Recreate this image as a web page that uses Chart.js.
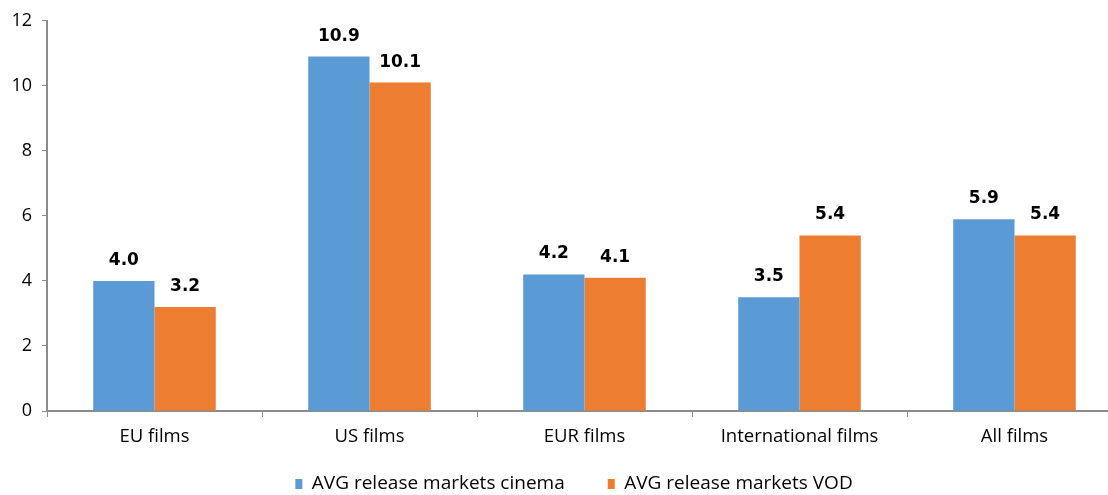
<!DOCTYPE html>
<html>
<head>
<meta charset="utf-8">
<script src="https://cdn.jsdelivr.net/npm/chart.js@4.4.0/dist/chart.umd.min.js"></script>
<style>
html,body{margin:0;padding:0;background:#fff;overflow:hidden;width:1108px;height:495px;}
canvas{display:block;}
</style>
</head>
<body>
<canvas id="c" width="1122" height="495"></canvas>
<script>
const categories = ["EU films", "US films", "EUR films", "International films", "All films"];
const cinemaValues = [4.0, 10.9, 4.2, 3.5, 5.9];
const vodValues = [3.2, 10.1, 4.1, 5.4, 5.4];
const seriesNames = ["AVG release markets cinema", "AVG release markets VOD"];
const yTicks = [0, 2, 4, 6, 8, 10, 12];

const labelPlugin = {
  id: 'barLabels',
  afterDatasetsDraw(chart) {
    const ctx = chart.ctx;
    ctx.save();
    ctx.font = 'bold 17px "DejaVu Sans"';
    ctx.fillStyle = '#000';
    ctx.textAlign = 'center';
    ctx.textBaseline = 'alphabetic';
    chart.data.datasets.forEach((ds, i) => {
      const meta = chart.getDatasetMeta(i);
      meta.data.forEach((bar, j) => {
        ctx.fillText(ds.data[j].toFixed(1), bar.x, bar.y - 16);
      });
    });
    ctx.restore();
  }
};

const legendFix = {
  id: 'legendFix',
  beforeLayout(chart) {
    const lg = chart.legend;
    if (lg && !lg.__patched) {
      const f = lg.fit;
      lg.fit = function () { f.call(this); this.height = 40; };
      lg.__patched = true;
    }
  },
  afterLayout(chart) {
    const lg = chart.legend;
    if (lg) {
      lg.left += 13; lg.right += 13;
      lg.top = 431.5; lg.bottom = 495;
    }
  }
};

new Chart(document.getElementById('c'), {
  type: 'bar',
  data: {
    labels: categories,
    datasets: [
      { label: seriesNames[0], data: cinemaValues, backgroundColor: '#5B9BD5', categoryPercentage: 0.57, barPercentage: 1.0 },
      { label: seriesNames[1], data: vodValues, backgroundColor: '#ED7D31', categoryPercentage: 0.57, barPercentage: 1.0 }
    ]
  },
  options: {
    responsive: false,
    animation: false,
    devicePixelRatio: 1,
    layout: { padding: { top: 9, left: 0, right: 0, bottom: 0 } },
    plugins: {
      tooltip: { enabled: false },
      legend: {
        position: 'bottom',
        labels: {
          boxWidth: 7, boxHeight: 10,
          color: '#000',
          font: { family: '"Open Sans"', size: 19 },
          padding: 43
        }
      }
    },
    scales: {
      x: {
        grid: { display: true, drawOnChartArea: false, drawTicks: true, tickLength: 6, color: '#8c8c8c', lineWidth: 1, offset: true },
        border: { display: true, color: '#8c8c8c', width: 2 },
        ticks: { color: '#000', font: { family: '"Open Sans"', size: 18.5 }, padding: 9, maxRotation: 0 },
        afterFit(scale) { scale.height = 44; }
      },
      y: {
        min: 0, max: 12,
        afterBuildTicks(scale) { scale.ticks = yTicks.map(v => ({ value: v })); },
        grid: { display: true, drawOnChartArea: false, drawTicks: true, tickLength: 5, color: '#8c8c8c' },
        border: { display: true, color: '#8c8c8c', width: 2 },
        ticks: { color: '#000', font: { family: '"Open Sans"', size: 18 }, padding: 10 },
        afterFit(scale) { scale.width = 47; }
      }
    }
  },
  plugins: [labelPlugin, legendFix]
});
</script>
</body>
</html>
